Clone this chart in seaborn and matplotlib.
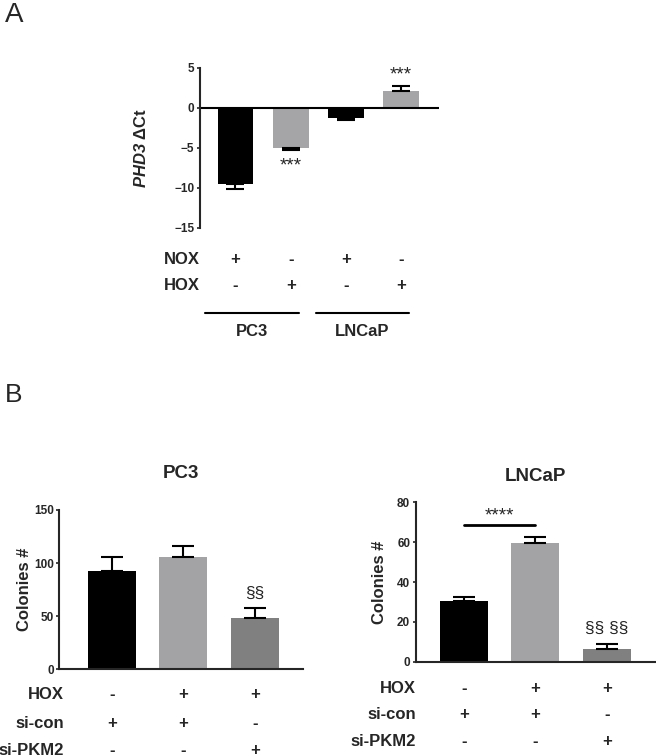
import numpy as np
import pandas as pd
import matplotlib
matplotlib.use("Agg")
import matplotlib.pyplot as plt
import seaborn as sns

# ---- data ----
phd3_groups = ["PC3 NOX", "PC3 HOX", "LNCaP NOX", "LNCaP HOX"]
phd3_mean = [-9.5, -5.0, -1.25, 2.1]
phd3_sem = [0.7, 0.3, 0.3, 0.65]
phd3_stars = ["", "***", "", "***"]
nox_a = ["+", "-", "+", "-"]
hox_a = ["-", "+", "-", "+"]
cell_lines = ["PC3", "LNCaP"]

b_groups = ["HOX- si-con", "HOX+ si-con", "HOX+ si-PKM2"]
pc3_colonies = [92.5, 106, 48.5]
pc3_sem = [13.5, 10, 9]
lncap_colonies = [30.3, 59.5, 6.3]
lncap_sem = [2.2, 3.3, 2.4]
hox_b = ["-", "+", "+"]
sicon_b = ["+", "+", "-"]
sipkm2_b = ["-", "-", "+"]

colors_a = ["#000000", "#A5A5A8", "#000000", "#A5A5A8"]
colors_b = ["#000000", "#A3A3A7", "#808080"]

sns.set_theme(style="ticks")
plt.rcParams["font.family"] = ["Liberation Sans", "DejaVu Sans"]
plt.rcParams["mathtext.fontset"] = "custom"
plt.rcParams["mathtext.bf"] = "Liberation Sans:italic:bold"


def bars(ax, groups, mean, sem, colors, width, capsize):
    df = pd.DataFrame({"group": groups, "value": mean})
    sns.barplot(data=df, x="group", y="value", hue="group", palette=colors,
                width=width, errorbar=None, legend=False, linewidth=0, ax=ax)
    m = np.array(mean)
    s = np.array(sem)
    lo = np.where(m < 0, s, 0)
    hi = np.where(m >= 0, s, 0)
    ax.errorbar(range(len(mean)), m, yerr=[lo, hi], fmt="none", ecolor="black",
                elinewidth=1.5, capsize=capsize, capthick=1.5)
    ax.set_xlabel("")
    ax.tick_params(axis="x", bottom=False, labelbottom=False)
    ax.tick_params(axis="y", length=2.5, width=1.2, pad=1.5, labelsize=8.5)
    for lab in ax.get_yticklabels():
        lab.set_fontweight("bold")


def sign_rows(ax, names, rows, ys, label_x, fs=12):
    for name, signs, y in zip(names, rows, ys):
        ax.text(label_x, y, name, transform=ax.transAxes, ha="right", va="center",
                fontsize=fs, fontweight="bold", clip_on=False)
        for i, s in enumerate(signs):
            ax.text(i, y, s, transform=ax.get_xaxis_transform(), ha="center",
                    va="center", fontsize=fs, fontweight="bold", clip_on=False)


fig = plt.figure(figsize=(6.56, 7.56), dpi=100)

# ---- panel A ----
axA = fig.add_axes([0.3049, 0.6988, 0.3643, 0.2116])
bars(axA, phd3_groups, phd3_mean, phd3_sem, colors_a, 0.65, 6.5)
axA.set_ylim(-15, 5)
axA.set_yticks([5, 0, -5, -10, -15])
axA.set_xlim(-0.642, 3.687)
sns.despine(ax=axA, bottom=True)
axA.spines["left"].set_linewidth(1.5)
axA.axhline(0, color="black", lw=1.5)
axA.set_ylabel(r"$\mathbf{PHD3}$ ΔCt", fontsize=12, fontweight="bold")
axA.yaxis.set_label_coords(-0.215, 0.5)
for i, (m, s, st) in enumerate(zip(phd3_mean, phd3_sem, phd3_stars)):
    if st:
        y = m - s - 2.0 if m < 0 else m + s + 1.3
        axA.text(i, y, st, ha="center", va="center", fontsize=13.5)
sign_rows(axA, ["NOX", "HOX"], [nox_a, hox_a], [-0.199, -0.364], 0.0, fs=12)
for k, name in enumerate(cell_lines):
    x0, x1 = 2 * k - 0.55, 2 * k + 1.15
    axA.plot([x0, x1], [-0.533, -0.533], color="black", lw=1.5,
             transform=axA.get_xaxis_transform(), clip_on=False)
    axA.text((x0 + x1) / 2, -0.65, name, transform=axA.get_xaxis_transform(),
             ha="center", va="center", fontsize=12, fontweight="bold")

# ---- panel B left (PC3) ----
axB1 = fig.add_axes([0.0904, 0.1147, 0.372, 0.2107])
bars(axB1, b_groups, pc3_colonies, pc3_sem, colors_b, 0.67, 8)
axB1.set_ylim(0, 150)
axB1.set_yticks([0, 50, 100, 150])
axB1.set_xlim(-0.731, 2.676)
sns.despine(ax=axB1)
for sp in ["left", "bottom"]:
    axB1.spines[sp].set_linewidth(1.5)
axB1.set_ylabel("Colonies #", fontsize=12, fontweight="bold")
axB1.yaxis.set_label_coords(-0.112, 0.5)
axB1.text(0.5, 1.232, "PC3", transform=axB1.transAxes, ha="center", va="center",
          fontsize=13.5, fontweight="bold")
axB1.text(2, pc3_colonies[2] + pc3_sem[2] + 14.4, "§§", ha="center", va="center", fontsize=12.5)
sign_rows(axB1, ["HOX", "si-con", "si-PKM2"], [hox_b, sicon_b, sipkm2_b],
          [-0.161, -0.339, -0.507], 0.02, fs=12)

# ---- panel B right (LNCaP) ----
axB2 = fig.add_axes([0.6337, 0.1247, 0.3648, 0.2108])
bars(axB2, b_groups, lncap_colonies, lncap_sem, colors_b, 0.67, 8)
axB2.set_ylim(0, 80)
axB2.set_yticks([0, 20, 40, 60, 80])
axB2.set_xlim(-0.671, 2.675)
sns.despine(ax=axB2)
for sp in ["left", "bottom"]:
    axB2.spines[sp].set_linewidth(1.5)
axB2.set_ylabel("Colonies #", fontsize=12, fontweight="bold")
axB2.yaxis.set_label_coords(-0.121, 0.5)
axB2.text(0.5, 1.161, "LNCaP", transform=axB2.transAxes, ha="center", va="center",
          fontsize=13.5, fontweight="bold")
axB2.plot([0, 1], [68.7, 68.7], color="black", lw=2)
axB2.text(0.5, 73.3, "****", ha="center", va="center", fontsize=13.5)
axB2.text(2, lncap_colonies[2] + lncap_sem[2] + 8, "§§ §§", ha="center", va="center", fontsize=12.5)
sign_rows(axB2, ["HOX", "si-con", "si-PKM2"], [hox_b, sicon_b, sipkm2_b],
          [-0.167, -0.334, -0.502], 0.0, fs=12)

fig.text(0.008, 0.997, "A", ha="left", va="top", fontsize=20)
fig.text(0.008, 0.494, "B", ha="left", va="top", fontsize=19)

fig.savefig("out.png", dpi=100)
